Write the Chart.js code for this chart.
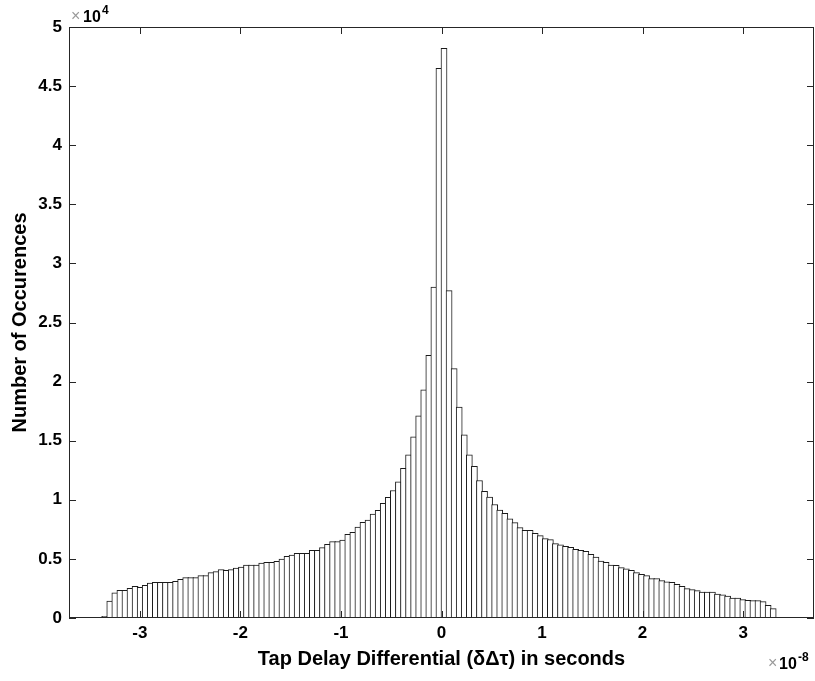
<!DOCTYPE html>
<html>
<head>
<meta charset="utf-8">
<script src="https://cdn.jsdelivr.net/npm/chart.js@4.4.1/dist/chart.umd.min.js"></script>
<style>
  html, body { margin: 0; padding: 0; background: #fff; }
</style>
</head>
<body>
<canvas id="histChart" width="815" height="681"></canvas>
<script>
// histogram counts, left tail -> right tail (134 bins)
const counts = [
  140, 1440, 2140, 2340, 2340, 2510, 2680, 2590, 2760, 2960, 3020, 3020, 3020, 3020, 3100,
  3270, 3410, 3410, 3410, 3580, 3580, 3840, 3920, 4090, 4030, 4090, 4230, 4310, 4480, 4480,
  4480, 4650, 4710, 4710, 4790, 4990, 5220, 5330, 5470, 5470, 5470, 5720, 5720,
  5950, 6230, 6460, 6460, 6600, 7080, 7250, 7700, 8090, 8290, 8800, 9110, 9700, 10200,
  10790, 11530, 12670, 13800, 15320, 17110, 19310, 22230, 28000, 46500,
  48200, 27700, 21100, 17850, 15490, 13800, 12830, 11630, 10720, 10240, 9600, 9120,
  8860, 8380, 8070, 7640, 7420, 7420, 7160, 6970, 6710, 6630, 6290, 6200, 6060, 5980,
  5810, 5720, 5640, 5390, 5160, 4820, 4710,
  4480, 4460, 4260, 4150, 4030, 3840, 3690, 3580, 3330, 3330, 3160, 3070, 3020, 2850,
  2680, 2480, 2400, 2310, 2200, 2200, 2200, 2030, 1950, 1860, 1690, 1690, 1550, 1490,
  1470, 1470, 1380, 1070, 790, 60
];
// bins in units of 1e-8 s
const binStart = -3.375;
const binWidth = 0.05037;
const binCenters = counts.map((c, i) => binStart + (i + 0.5) * binWidth);

const xTicks = [-3, -2, -1, 0, 1, 2, 3];
const yTicks = [0, 5000, 10000, 15000, 20000, 25000, 30000, 35000, 40000, 45000, 50000];
const yTickLabels = ['0', '0.5', '1', '1.5', '2', '2.5', '3', '3.5', '4', '4.5', '5'];

const FONT = "'Liberation Sans', Arial, sans-serif";

// MATLAB-like box with inward ticks and exponent labels
const boxPlugin = {
  id: 'box',
  afterDatasetsDraw(chart) {
    const { ctx, chartArea: a, scales: { x, y } } = chart;
    ctx.save();
    ctx.strokeStyle = '#262626';
    ctx.lineWidth = 1;
    ctx.strokeRect(a.left + 0.5, a.top + 0.5, a.right - a.left - 1, a.bottom - a.top - 1);
    ctx.beginPath();
    xTicks.forEach(v => {
      const px = Math.round(x.getPixelForValue(v)) + 0.5;
      ctx.moveTo(px, a.bottom); ctx.lineTo(px, a.bottom - 7);
      ctx.moveTo(px, a.top); ctx.lineTo(px, a.top + 7);
    });
    yTicks.forEach(v => {
      const py = Math.round(y.getPixelForValue(v)) + 0.5;
      ctx.moveTo(a.left, py); ctx.lineTo(a.left + 7, py);
      ctx.moveTo(a.right, py); ctx.lineTo(a.right - 7, py);
    });
    ctx.stroke();

    ctx.textBaseline = 'alphabetic';
    ctx.textAlign = 'left';
    // x10^4
    ctx.fillStyle = '#999';
    ctx.font = '16px ' + FONT;
    ctx.fillText('\u00d7', 71, 21);
    ctx.fillStyle = '#000';
    ctx.font = 'bold 16px ' + FONT;
    ctx.fillText('10', 83, 21.5);
    ctx.font = 'bold 12px ' + FONT;
    ctx.fillText('4', 102, 14);
    // x10^-8
    ctx.fillStyle = '#999';
    ctx.font = '16px ' + FONT;
    ctx.fillText('\u00d7', 768, 668);
    ctx.fillStyle = '#000';
    ctx.font = 'bold 16px ' + FONT;
    ctx.fillText('10', 779, 668.5);
    ctx.font = 'bold 12px ' + FONT;
    ctx.fillText('-8', 798, 661);
    ctx.restore();
  }
};

const ctx = document.getElementById('histChart').getContext('2d');

new Chart(ctx, {
  type: 'bar',
  data: {
    datasets: [{
      data: binCenters.map((c, i) => ({ x: c, y: counts[i] })),
      backgroundColor: '#fff',
      borderColor: '#1a1a1a',
      borderWidth: 1,
      borderSkipped: false,
      barThickness: 6.06,
      grouped: false
    }]
  },
  options: {
    responsive: false,
    animation: false,
    layout: { padding: { top: 27, right: 1, left: 0, bottom: 0 } },
    plugins: { legend: { display: false }, tooltip: { enabled: false } },
    scales: {
      x: {
        type: 'linear',
        min: -3.705,
        max: 3.705,
        offset: false,
        grid: { display: false, drawTicks: false },
        border: { display: false },
        afterBuildTicks: s => { s.ticks = xTicks.map(v => ({ value: v })); },
        ticks: {
          color: '#000',
          font: { family: FONT, size: 17, weight: 'bold' },
          padding: 5,
          maxRotation: 0,
          autoSkip: false
        },
        title: {
          display: true,
          text: 'Tap Delay Differential (\u03b4\u0394\u03c4) in seconds',
          color: '#000',
          font: { family: FONT, size: 20, weight: 'bold' },
          padding: { top: 0, bottom: 10 }
        },
        afterFit: s => { s.height = 63; }
      },
      y: {
        min: 0,
        max: 50000,
        grid: { display: false, drawTicks: false },
        border: { display: false },
        afterBuildTicks: s => { s.ticks = yTicks.map(v => ({ value: v })); },
        ticks: {
          color: '#000',
          font: { family: FONT, size: 17, weight: 'bold' },
          padding: 7,
          callback: (v, i) => yTickLabels[i]
        },
        title: {
          display: true,
          text: 'Number of Occurences',
          color: '#000',
          font: { family: FONT, size: 20, weight: 'bold' },
          padding: { top: 8, bottom: 0 }
        },
        afterFit: s => { s.width = 69; }
      }
    }
  },
  plugins: [boxPlugin]
});
</script>
</body>
</html>
